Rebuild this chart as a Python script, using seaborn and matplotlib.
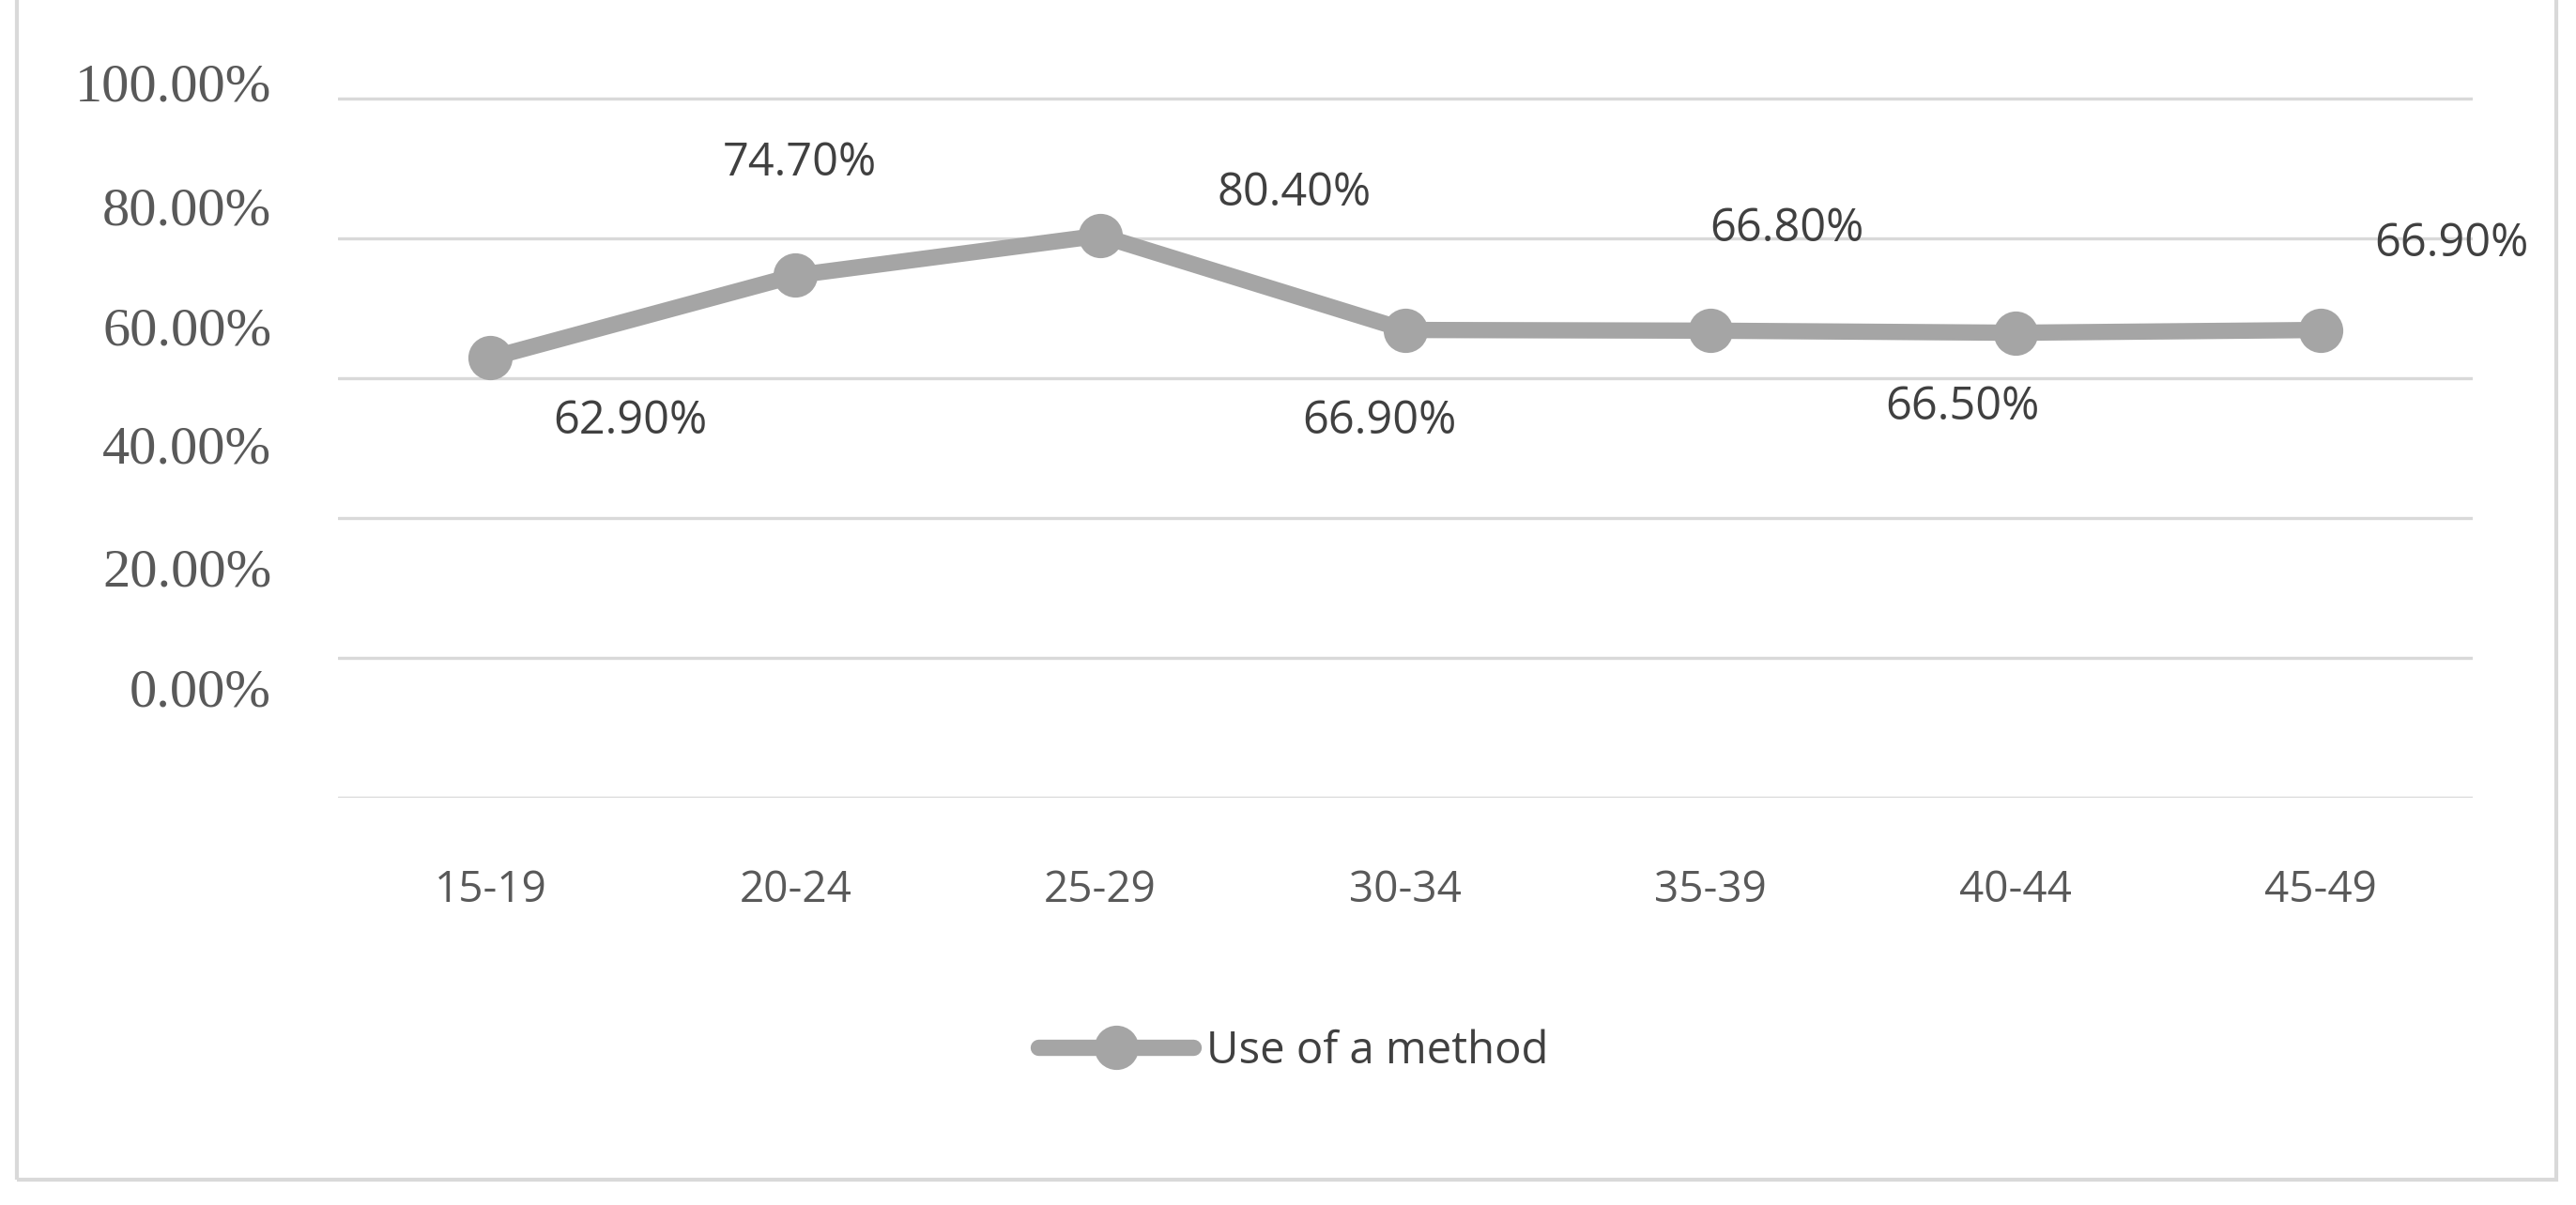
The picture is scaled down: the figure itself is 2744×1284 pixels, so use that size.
import pandas as pd
from matplotlib import pyplot as plt
from matplotlib.patches import Rectangle
import seaborn as sns

# 연령대별 피임 방법 사용률
ages = ["15-19", "20-24", "25-29", "30-34", "35-39", "40-44", "45-49"]
use_pct = [62.9, 74.7, 80.4, 66.9, 66.8, 66.5, 66.9]
value_labels = ["62.90%", "74.70%", "80.40%", "66.90%", "66.80%", "66.50%", "66.90%"]

grid_levels = [0, 20, 40, 60, 80, 100]
# 원본 그림처럼 눈금 글자가 격자선과 어긋나 있음
ytick_pos = [15.8, 33.0, 50.6, 67.5, 84.6, 102.4]
ytick_text = ["0.00%", "20.00%", "40.00%", "60.00%", "80.00%", "100.00%"]

# 라벨 위치 (점 기준 픽셀 오프셋)
label_offsets = [(149, -68), (5, 119), (206, 45), (-28, -98), (82, 108), (-56, -80), (140, 91)]

sns.set_style("white")
plt.rcParams['font.family'] = ['Open Sans', 'DejaVu Sans']

df = pd.DataFrame({"age": ages, "pct": use_pct})

fig = plt.figure(figsize=(27.44, 12.84), dpi=100)
ax = fig.add_axes([360 / 2744, 1 - 850 / 1284, 2274 / 2744, 819.5 / 1284])

for g in grid_levels:
    ax.axhline(g, color="#D9D9D9", lw=2.4, zorder=0)

sns.lineplot(data=df, x="age", y="pct", ax=ax, sort=False, color="#A5A5A5",
             linewidth=12.5, marker="o", markersize=34, markeredgewidth=0,
             label="Use of a method")

for i, (v, t) in enumerate(zip(use_pct, value_labels)):
    dx, dy = label_offsets[i]
    ax.annotate(t, (i, v), xytext=(dx, dy), textcoords="offset pixels",
                ha="center", va="center", fontsize=35, color="#404040")

ax.set_xlim(-0.5, 6.5)
ax.set_ylim(0, 110)
ax.set_yticks(ytick_pos)
ax.set_yticklabels(ytick_text, family=['Liberation Serif', 'DejaVu Serif'],
                   fontsize=42, color="#595959")
ax.tick_params(axis="y", length=0, pad=51)
ax.tick_params(axis="x", length=0, pad=55, labelsize=33, labelcolor="#595959")
ax.set_xlabel("")
ax.set_ylabel("")
for s in ax.spines.values():
    s.set_visible(False)

ax.legend(loc="center left", bbox_to_anchor=(1106 / 2744, 1 - 1120 / 1284),
          bbox_transform=fig.transFigure, frameon=False, fontsize=34,
          handlelength=3.5, handletextpad=0.3, borderpad=0, borderaxespad=0,
          labelcolor="#404040")

# 바깥 테두리
fig.patches.append(Rectangle((18 / 2744, 1 - 1257 / 1284), (2723 - 18) / 2744, 1.2,
                             transform=fig.transFigure, fill=False,
                             edgecolor="#D9D9D9", lw=3))

fig.savefig("out.png", dpi=100, facecolor="white")
